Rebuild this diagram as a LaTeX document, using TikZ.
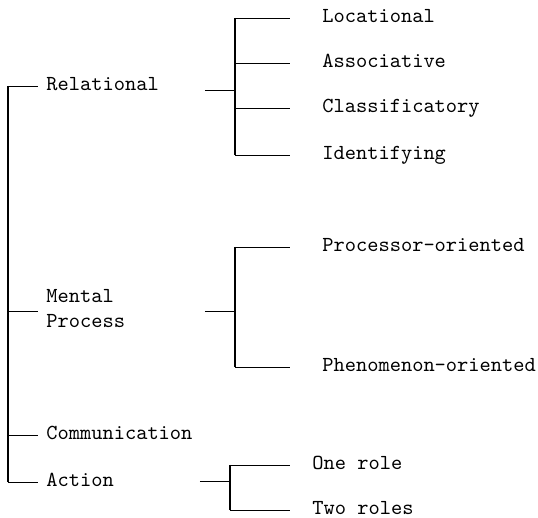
\documentclass[tikz,border=0pt]{standalone}
\tikzset{
  lab/.style={anchor=west, inner xsep=4pt, inner ysep=0pt, text height=7pt, text depth=2pt},
  leaf/.style={lab},
  spine/.style={line width=0.8pt},
  twig/.style={line width=0.4pt},
}
\begin{document}
\begin{tikzpicture}[x=0.5pt, y=-0.5pt, font=\ttfamily\fontsize{10.7}{12.5}\selectfont]
         \useasboundingbox (0,0) rectangle (538,518);
         %nodes, first level
         \coordinate (root) at (8,0);
         \node[lab] at (38,86) (rel) {Relational};
         \node[anchor=west, inner xsep=4pt, inner ysep=0pt, align=left] at (38,309) (mp) {Mental\\Process};
         \node[lab] at (38,435) (com) {Communication};
         \node[lab] at (38,482) (act) {Action};
         % second level
         \node[leaf] at (314,18) (loc) {Locational};
         \node[leaf] at (314,63) (ass) {Associative};
         \node[leaf] at (314,108) (cla) {Classificatory};
         \node[leaf] at (314,155) (ide) {Identifying};
         \node[leaf] at (314,247) (pro) {Processor-oriented};
         \node[leaf] at (314,367) (phe) {Phenomenon-oriented};
         \node[leaf] at (304,465) (one) {One role};
         \node[leaf] at (304,510) (two) {Two roles};
         % junctions of the brackets
         \coordinate (rels) at (205,90); \coordinate (relj) at (235,90);
         \coordinate (mps) at (205,311); \coordinate (mpj) at (235,311);
         \coordinate (acts) at (200,481); \coordinate (actj) at (230,481);
         % main spine
         \draw[spine] (root |- rel) -- (root |- act);
         \draw[twig] (root |- rel) -- (rel.west); \draw[twig] (root |- mps) -- (mp.west |- mps);
         \draw[twig] (root |- com) -- (com.west); \draw[twig] (root |- act) -- (act.west);
         % relational
         \draw[twig] (rels) -- (relj);
         \draw[spine] (relj |- loc) -- (relj |- ide);
         \foreach \n in {loc,ass,cla,ide} \draw[twig, shorten >=12pt] (relj |- \n) -- (\n.west);
         % mental process
         \draw[twig] (mps) -- (mpj);
         \draw[spine] (mpj |- pro) -- (mpj |- phe);
         \foreach \n in {pro,phe} \draw[twig, shorten >=12pt] (mpj |- \n) -- (\n.west);
         % action
         \draw[twig] (acts) -- (actj);
         \draw[spine] (actj |- one) -- (actj |- two);
         \foreach \n in {one,two} \draw[twig, shorten >=7pt] (actj |- \n) -- (\n.west);
        \end{tikzpicture}
\end{document}
